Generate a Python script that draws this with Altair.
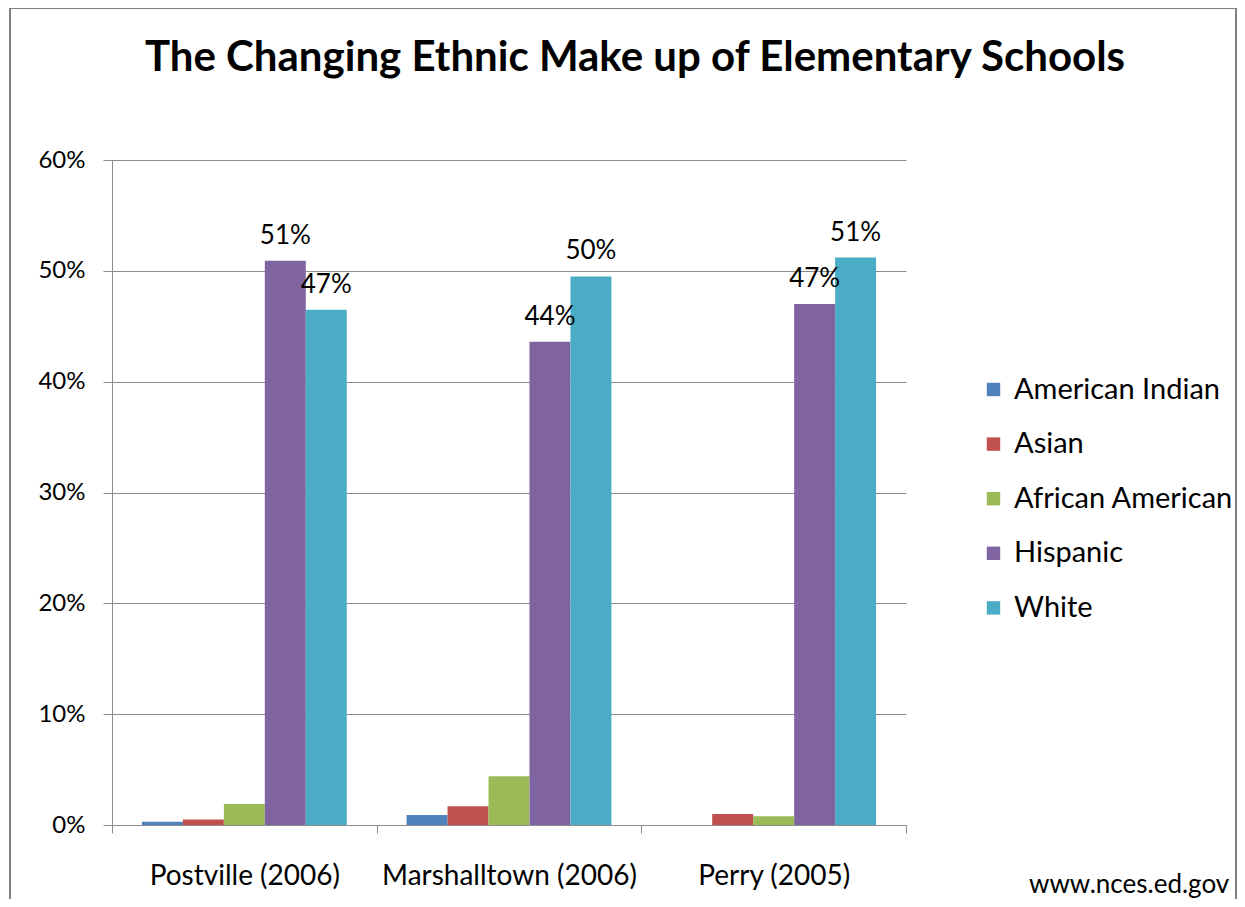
import altair as alt
import pandas as pd

schools = ["Postville (2006)", "Marshalltown (2006)", "Perry (2005)"]
groups = ["American Indian", "Asian", "African American", "Hispanic", "White"]
american_indian = [0.003, 0.009, 0.0]
asian = [0.005, 0.017, 0.010]
african_american = [0.019, 0.044, 0.008]
hispanic = [0.509, 0.436, 0.470]
white = [0.465, 0.495, 0.512]
colors = ["#4F81BD", "#C0504D", "#9BBB59", "#8064A2", "#4BACC6"]
labelled = ["Hispanic", "White"]
title_text = "The Changing Ethnic Make up of Elementary Schools"
source_text = "www.nces.ed.gov"
y_ticks = [0, 0.1, 0.2, 0.3, 0.4, 0.5, 0.6]

series = [american_indian, asian, african_american, hispanic, white]
rows = []
for g, vals in zip(groups, series):
    for s, v in zip(schools, vals):
        rows.append({"school": s, "group": g, "value": v})
df = pd.DataFrame(rows)

W, H = 794, 665
FONT = "Lato"
GRID = "#8c8c8c"

x_enc = alt.X("school:N", sort=schools,
              scale=alt.Scale(paddingInner=0, paddingOuter=0),
              axis=alt.Axis(title=None, tickBand="extent", labelFontSize=28,
                            labelPadding=29, tickSize=8, labelColor="#000",
                            domainColor=GRID, tickColor=GRID, labelFont=FONT,
                            labelLimit=0, grid=False, labelAngle=0))
xo_enc = alt.XOffset("group:N", sort=groups,
                     scale=alt.Scale(paddingOuter=0.73, paddingInner=0))
y_enc = alt.Y("value:Q", scale=alt.Scale(domain=[0, 0.6]),
              axis=alt.Axis(format=".0%", values=y_ticks, title=None,
                            labelFontSize=24, labelFont=FONT, labelColor="#000",
                            grid=True, gridColor=GRID, domainColor=GRID,
                            tickColor=GRID, tickSize=9, labelPadding=18))

base = alt.Chart(df)
bars = base.mark_bar().encode(
    x=x_enc, xOffset=xo_enc, y=y_enc,
    color=alt.Color("group:N", sort=groups,
                    scale=alt.Scale(domain=groups, range=colors),
                    legend=alt.Legend(orient="none", legendX=867, legendY=215,
                                      title=None, labelFontSize=29, labelFont=FONT,
                                      labelColor="#000", symbolType="square",
                                      symbolSize=180, symbolStrokeWidth=0,
                                      rowPadding=24.6, labelOffset=6, labelLimit=0)),
)
labels = base.transform_filter(
    alt.FieldOneOfPredicate(field="group", oneOf=labelled)
).mark_text(baseline="alphabetic", dy=-17, fontSize=26, font=FONT, color="#000").encode(
    x=x_enc, xOffset=xo_enc, y=y_enc,
    text=alt.Text("value:Q", format=".0%"),
)

one = pd.DataFrame({"t": [title_text], "s": [source_text]})
title = alt.Chart(one).mark_text(font=FONT, fontSize=42, fontWeight="bold",
                                 align="center", baseline="alphabetic", color="#000").encode(
    text="t:N", x=alt.value(523), y=alt.value(-89))
source = alt.Chart(one).mark_text(font=FONT, fontSize=26, align="left",
                                  baseline="alphabetic", color="#000").encode(
    text="s:N", x=alt.value(917), y=alt.value(733))
frame_side = alt.Chart(one).mark_rect(fillOpacity=0, stroke="#808080", strokeWidth=2).encode(
    x=alt.value(-102), x2=alt.value(1124), y=alt.value(-152), y2=alt.value(800))
frame_top = alt.Chart(one).mark_rule(stroke="#808080", strokeWidth=2).encode(
    x=alt.value(-102), x2=alt.value(1124), y=alt.value(-152))

chart = alt.layer(frame_side, frame_top, bars, labels, title, source).properties(
    width=W, height=H,
    autosize=alt.AutoSizeParams(type="none"),
    padding={"left": 104, "top": 152, "right": 331, "bottom": 74},
    background="white",
).configure_view(stroke=None)

chart.save("out.html", embed_options={"renderer": "svg", "actions": False})
